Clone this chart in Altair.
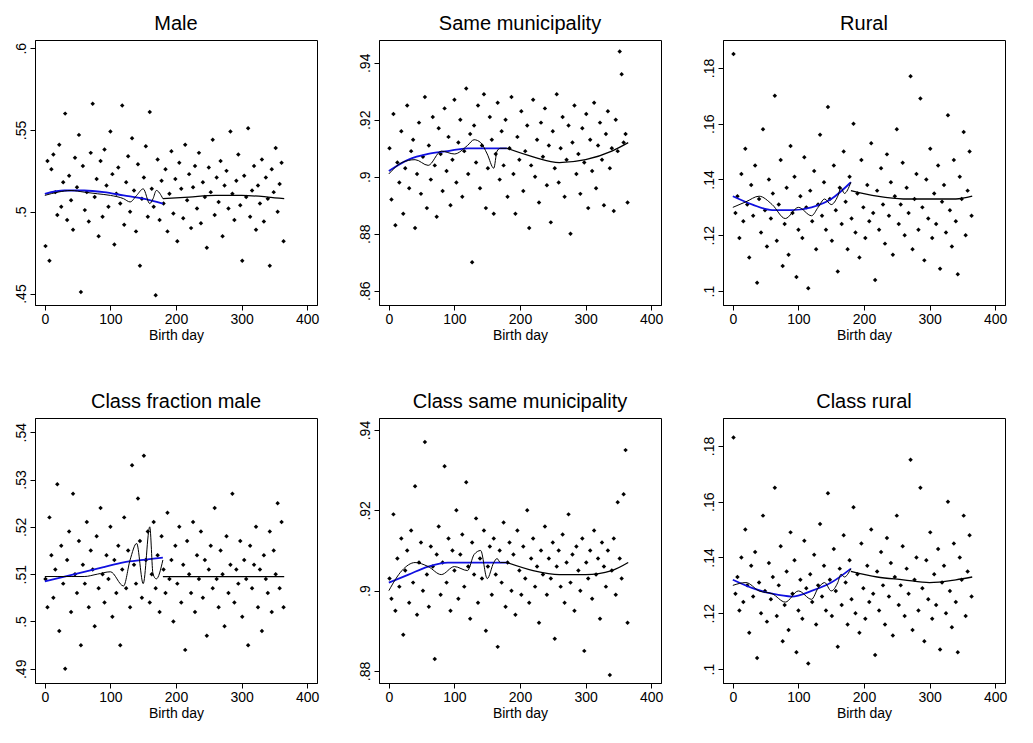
import altair as alt
import pandas as pd

days = list(range(1, 366, 3))

male = [.479, .531, .470, .526, .535, .512, .498, .541, .503, .518, .560, .495, .522, .507, .489, .533, .515, .547, .451, .528,
        .501, .512, .494, .536, .566, .509, .520, .485, .531, .497, .538, .516, .503, .549, .523, .480, .511, .527, .505, .565,
        .492, .518, .534, .500, .545, .513, .488, .529, .467, .508, .521, .540, .497, .561, .514, .503, .449, .532, .495, .519,
        .505, .526, .488, .511, .537, .499, .520, .482, .530, .514, .496, .541, .507, .523, .490, .515, .528, .502, .536, .493,
        .518, .509, .478, .527, .512, .544, .498, .521, .506, .531, .485, .516, .525, .502, .549, .511, .495, .519, .535, .504,
        .470, .522, .509, .551, .497, .513, .528, .489, .516, .505, .532, .494, .521, .508, .467, .526, .512, .539, .500, .517,
        .530, .482]
same_muni = [.910, .892, .922, .883, .905, .898, .916, .887, .903, .925, .896, .909, .913, .882, .901, .919, .894, .907, .928, .889,
             .911, .899, .921, .904, .886, .917, .908, .895, .924, .902, .914, .890, .906, .927, .898, .912, .920, .893, .909, .931,
             .901, .915, .870, .918, .905, .925, .896, .911, .929, .889, .903, .921, .913, .887, .908, .926, .899, .916, .904, .920,
             .893, .910, .928, .901, .887, .914, .906, .923, .895, .909, .918, .882, .904, .927, .900, .913, .891, .919, .907, .924,
             .897, .911, .884, .916, .903, .929, .898, .910, .921, .893, .906, .918, .880, .912, .925, .901, .908, .894, .917, .905,
             .922, .889, .913, .902, .926, .896, .911, .919, .906, .890, .915, .923, .903, .910, .888, .920, .909, .944, .936, .912,
             .915, .891]
rural = [.185, .128, .134, .119, .142, .125, .151, .131, .112, .138, .127, .145, .103, .133, .121, .158, .129, .116, .140, .126,
         .135, .170, .118, .131, .147, .109, .124, .137, .113, .152, .128, .141, .105, .122, .134, .119, .148, .130, .101, .136,
         .125, .143, .115, .131, .156, .127, .139, .122, .166, .133, .118, .145, .129, .107, .137, .124, .150, .132, .115, .141,
         .126, .160, .121, .135, .112, .147, .130, .119, .138, .125, .153, .128, .104, .136, .122, .144, .131, .117, .149, .127,
         .139, .113, .134, .158, .124, .131, .146, .120, .137, .128, .177, .115, .133, .142, .122, .169, .130, .111, .140, .126,
         .151, .119, .135, .124, .145, .108, .132, .138, .121, .163, .129, .116, .147, .125, .106, .141, .133, .157, .120, .136,
         .150, .127]
class_male = [.509, .503, .522, .514, .505, .511, .529, .498, .516, .508, .490, .513, .519, .502, .527, .510, .506, .517, .495, .512,
              .508, .521, .503, .515, .511, .499, .518, .507, .524, .510, .504, .514, .509, .520, .501, .513, .506, .516, .495, .511,
              .522, .507, .515, .503, .533, .512, .508, .526, .517, .505, .535, .513, .519, .504, .510, .521, .507, .514, .502, .518,
              .511, .506, .523, .509, .513, .500, .516, .508, .520, .504, .512, .494, .517, .510, .506, .521, .502, .514, .509, .519,
              .505, .513, .497, .511, .516, .507, .524, .509, .503, .515, .510, .499, .518, .506, .512, .527, .504, .511, .508, .517,
              .501, .513, .509, .495, .516, .507, .512, .520, .503, .511, .498, .514, .509, .506, .519, .502, .515, .510, .525, .507,
              .521, .503]
class_muni = [.903, .898, .919, .895, .908, .901, .913, .889, .905, .910, .897, .915, .902, .926, .894, .907, .912, .900, .937, .904,
              .896, .911, .906, .883, .909, .916, .899, .907, .931, .902, .913, .895, .910, .905, .920, .898, .909, .914, .901, .927,
              .906, .893, .912, .904, .918, .897, .908, .903, .915, .890, .906, .911, .899, .913, .904, .886, .910, .902, .917, .896,
              .907, .912, .900, .909, .894, .915, .905, .899, .911, .903, .920, .897, .908, .913, .901, .906, .892, .910, .904, .916,
              .899, .908, .903, .912, .888, .906, .910, .901, .914, .897, .907, .919, .902, .909, .895, .911, .905, .900, .913, .885,
              .907, .903, .910, .898, .915, .904, .908, .893, .912, .906, .901, .910, .879, .905, .913, .899, .922, .908, .903, .924,
              .935, .892]
class_rural = [.183, .127, .133, .121, .140, .124, .150, .130, .113, .137, .126, .142, .104, .131, .120, .155, .128, .117, .138, .125,
               .133, .165, .119, .130, .144, .110, .123, .135, .114, .149, .127, .139, .106, .121, .132, .118, .146, .129, .102, .134,
               .124, .141, .116, .130, .152, .126, .137, .121, .163, .132, .119, .143, .128, .108, .136, .123, .148, .131, .116, .139,
               .125, .158, .120, .134, .113, .145, .129, .118, .137, .124, .150, .127, .105, .135, .121, .142, .130, .116, .147, .126,
               .138, .112, .133, .155, .123, .130, .144, .119, .136, .127, .175, .114, .132, .140, .121, .165, .129, .110, .139, .125,
               .149, .118, .134, .123, .143, .107, .131, .137, .120, .160, .128, .115, .145, .124, .106, .140, .132, .155, .119, .135,
               .148, .126]

# fitted lines: blue (0-180), black wiggly (0-180), black (180-365)
blue_x = [0, 30, 60, 90, 120, 150, 180]
wig_x = [0, 20, 40, 60, 80, 100, 120, 130, 140, 150, 160, 165, 170, 180]
right_x = [180, 220, 260, 300, 340, 365]

panels = [
    ("Male", male, [.443, .605], [.45, .5, .55, .6], [".45", ".5", ".55", ".6"],
     [.511, .513, .513, .512, .510, .508, .505],
     [.510, .512, .513, .512, .511, .510, .508, .506, .510, .514, .505, .508, .513, .508],
     [.508, .509, .510, .510, .509, .508]),
    ("Same municipality", same_muni, [.855, .948], [.86, .88, .9, .92, .94], [".86", ".88", ".9", ".92", ".94"],
     [.902, .906, .908, .909, .910, .910, .910],
     [.901, .905, .906, .904, .909, .908, .911, .913, .912, .908, .903, .909, .910, .910],
     [.910, .907, .905, .906, .909, .912]),
    ("Rural", rural, [.095, .19], [.1, .12, .14, .16, .18], [".1", ".12", ".14", ".16", ".18"],
     [.134, .131, .129, .129, .130, .133, .139],
     [.130, .132, .134, .131, .126, .130, .127, .130, .133, .131, .134, .137, .135, .139],
     [.136, .134, .133, .133, .133, .134]),
    ("Class fraction male", class_male, [.487, .543], [.49, .5, .51, .52, .53, .54],
     [".49", ".5", ".51", ".52", ".53", ".54"],
     [.5085, .5095, .5105, .5115, .5125, .513, .5135],
     [.5095, .5095, .5095, .5095, .5100, .5105, .5075, .5130, .5165, .5080, .5200, .5100, .5090, .5130],
     [.5095, .5095, .5095, .5095, .5095, .5095]),
    ("Class same municipality", class_muni, [.877, .943], [.88, .9, .92, .94], [".88", ".9", ".92", ".94"],
     [.902, .904, .906, .907, .907, .907, .907],
     [.900, .905, .907, .906, .904, .906, .905, .909, .910, .903, .907, .908, .907, .907],
     [.907, .905, .904, .904, .905, .907]),
    ("Class rural", class_rural, [.095, .19], [.1, .12, .14, .16, .18], [".1", ".12", ".14", ".16", ".18"],
     [.132, .129, .127, .126, .128, .131, .136],
     [.130, .131, .128, .127, .124, .128, .125, .129, .131, .128, .131, .134, .133, .136],
     [.135, .133, .132, .131, .132, .133]),
]


def panel(title, vals, dom, ticks, labels, blue, wig, right):
    expr = " : ".join(f"datum.value == {t} ? '{l}'" for t, l in zip(ticks, labels)) + " : ''"
    x = alt.X("day:Q", title="Birth day", scale=alt.Scale(domain=[-15, 415], nice=False),
              axis=alt.Axis(values=[0, 100, 200, 300, 400], grid=False))
    y = alt.Y("v:Q", title=None, scale=alt.Scale(domain=dom, nice=False, zero=False),
              axis=alt.Axis(values=ticks, grid=False, labelAngle=270, labelAlign="center",
                            labelBaseline="bottom", labelExpr=expr))
    pts = alt.Chart(pd.DataFrame({"day": days[:len(vals)], "v": vals[:len(days)]})).mark_point(
        shape="diamond", filled=True, color="black", size=20, opacity=1).encode(x=x, y=y)
    bl = alt.Chart(pd.DataFrame({"day": blue_x, "v": blue})).mark_line(
        color="#1010e0", strokeWidth=1.8, interpolate="monotone").encode(x=x, y=y)
    wg = alt.Chart(pd.DataFrame({"day": wig_x, "v": wig})).mark_line(
        color="black", strokeWidth=1, interpolate="monotone").encode(x=x, y=y)
    rt = alt.Chart(pd.DataFrame({"day": right_x, "v": right})).mark_line(
        color="black", strokeWidth=1.3, interpolate="monotone").encode(x=x, y=y)
    return alt.layer(pts, bl, wg, rt).properties(
        width=282, height=265,
        title=alt.TitleParams(title, fontSize=20, fontWeight="normal", font="Liberation Sans"))


charts = [panel(*p) for p in panels]
chart = alt.vconcat(
    alt.hconcat(*charts[:3], spacing=37),
    alt.hconcat(*charts[3:], spacing=37),
    spacing=48,
).configure_view(stroke="black", strokeWidth=1).configure_axis(
    labelFontSize=14, titleFontSize=14, labelFont="Liberation Sans", titleFont="Liberation Sans",
    titleFontWeight="normal", domainColor="black", tickColor="black", labelColor="black",
    titleColor="black", titlePadding=2,
).configure_title(color="black", offset=6)

chart.save("out.html", embed_options={"renderer": "svg", "actions": False})
